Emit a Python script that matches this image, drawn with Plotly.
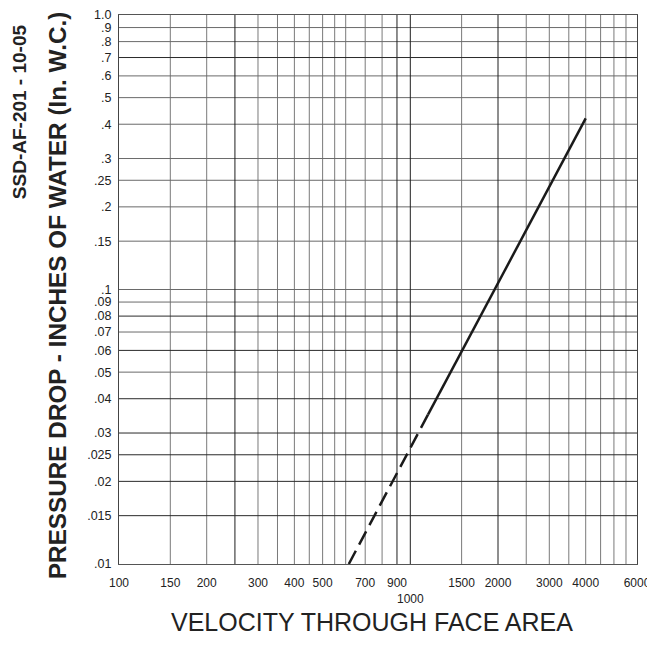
import math
import plotly.graph_objects as go

# ---- data ----
X_RANGE = [100, 6000]
Y_RANGE = [0.01, 1.0]

X_GRID_GRAY = [150, 200, 300, 350, 400, 450, 500, 550, 600, 700, 800, 1500, 2500, 3000, 3500, 4000, 4500, 5000, 5500]
X_GRID_DARK = [250, 900, 1000, 2000]
Y_GRID_GRAY = [0.05, 0.07, 0.09, 0.1, 0.15, 0.2, 0.25, 0.3, 0.4, 0.5, 0.6, 0.8, 0.9]
Y_GRID_DARK = [0.015, 0.02, 0.025, 0.03, 0.04, 0.06, 0.08, 0.7]

X_TICK_VALS = [100, 150, 200, 300, 400, 500, 700, 900, 1000, 1500, 2000, 3000, 4000, 6000]
X_TICK_TEXT = ["100", "150", "200", "300", "400", "500", "700", "900", "<br>1000", "1500", "2000", "3000", "4000", "6000"]
Y_TICK_VALS = [0.01, 0.015, 0.02, 0.025, 0.03, 0.04, 0.05, 0.06, 0.07, 0.08, 0.09, 0.1,
               0.15, 0.2, 0.25, 0.3, 0.4, 0.5, 0.6, 0.7, 0.8, 0.9, 1.0]
Y_TICK_TEXT = [".01", ".015", ".02", ".025", ".03", ".04", ".05", ".06", ".07", ".08", ".09", ".1",
               ".15", ".2", ".25", ".3", ".4", ".5", ".6", ".7", ".8", ".9", "1.0"]

# curve: dashed (extrapolated) and solid segments
DASH_VEL = [615, 1150]
DASH_DP = [0.01, 0.035]
SOLID_VEL = [1150, 4000]
SOLID_DP = [0.035, 0.42]

FONT = "Liberation Sans, Arial, sans-serif"


def vlines(vals):
    xs, ys = [], []
    for v in vals:
        xs += [v, v, None]
        ys += [Y_RANGE[0], Y_RANGE[1], None]
    return xs, ys


def hlines(vals):
    xs, ys = [], []
    for v in vals:
        xs += [X_RANGE[0], X_RANGE[1], None]
        ys += [v, v, None]
    return xs, ys


fig = go.Figure()
for fn, vals, col in [(vlines, X_GRID_GRAY, "#7a7a7a"), (hlines, Y_GRID_GRAY, "#6a6a6a"),
                      (vlines, X_GRID_DARK, "#1e1e1e"), (hlines, Y_GRID_DARK, "#2a2a2a")]:
    xs, ys = fn(vals)
    fig.add_trace(go.Scatter(x=xs, y=ys, mode="lines", line=dict(color=col, width=1),
                             hoverinfo="skip", showlegend=False))

fig.add_trace(go.Scatter(x=DASH_VEL, y=DASH_DP, mode="lines",
                         line=dict(color="#1a1a1a", width=2.5, dash="15px,7px"),
                         showlegend=False))
fig.add_trace(go.Scatter(x=SOLID_VEL, y=SOLID_DP, mode="lines",
                         line=dict(color="#1a1a1a", width=2.5),
                         showlegend=False))

fig.update_layout(
    width=647, height=660,
    margin=dict(l=119, r=10, t=15, b=96, autoexpand=False),
    paper_bgcolor="white", plot_bgcolor="white",
    font=dict(family=FONT, color="#222"),
    hovermode=False,
    xaxis=dict(type="log", range=[math.log10(X_RANGE[0]), math.log10(X_RANGE[1])],
               tickvals=X_TICK_VALS, ticktext=X_TICK_TEXT, showgrid=False, zeroline=False,
               ticks="", showline=True, linecolor="#555", linewidth=1, mirror=True,
               tickfont=dict(size=12, color="#222"), tickangle=0, automargin=False,
               ticklabelstandoff=8, ticklabeloverflow="allow"),
    yaxis=dict(type="log", range=[math.log10(Y_RANGE[0]), math.log10(Y_RANGE[1])],
               tickvals=Y_TICK_VALS, ticktext=Y_TICK_TEXT, showgrid=False, zeroline=False,
               ticks="", showline=True, linecolor="#444", linewidth=1, mirror=True,
               tickfont=dict(size=12.5, color="#222"), automargin=False,
               ticklabelstandoff=4, ticklabeloverflow="allow"),
    annotations=[
        dict(text="<b>PRESSURE DROP - INCHES OF WATER (In. W.C.)</b>", textangle=-90,
             xref="paper", yref="paper", x=0, y=0.488, xanchor="center", yanchor="middle",
             xshift=-62, showarrow=False, font=dict(size=24.3, color="#222", family=FONT)),
        dict(text="<b>SSD-AF-201 - 10-05</b>", textangle=-90,
             xref="paper", yref="paper", x=0, y=0.823, xanchor="center", yanchor="middle",
             xshift=-100, showarrow=False, font=dict(size=19, color="#222", family=FONT)),
        dict(text="VELOCITY THROUGH FACE AREA",
             xref="paper", yref="paper", x=0, y=0, xanchor="center", yanchor="middle",
             xshift=253, yshift=-58, showarrow=False,
             font=dict(size=25, color="#222", family=FONT)),
    ],
)

# remove the browser's default page margin so the figure sits at the window origin
fig.write_html("out.html", config={"displayModeBar": False, "staticPlot": True},
               post_script="document.body.style.margin='0';document.body.style.overflow='hidden';")
